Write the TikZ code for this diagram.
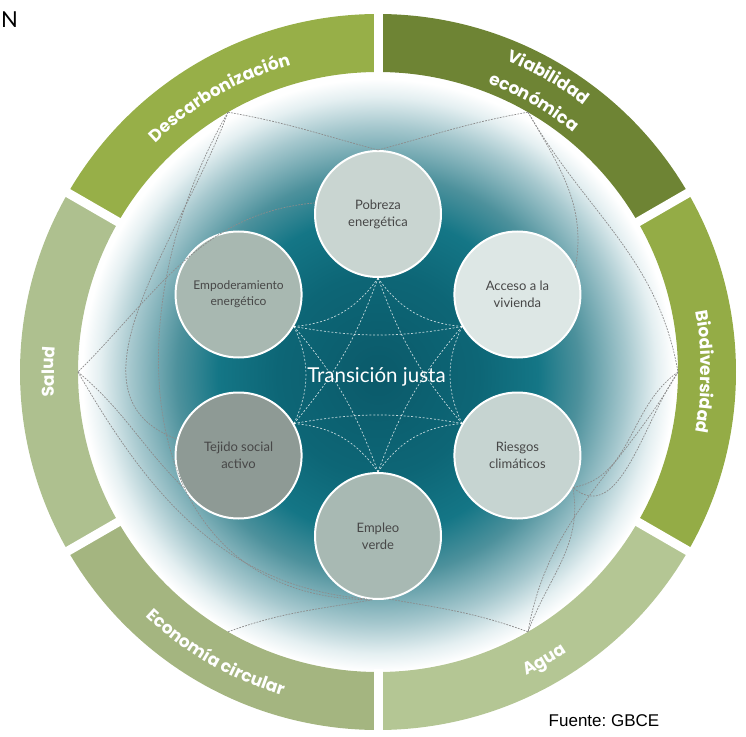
\documentclass[tikz,border=0pt]{standalone}
\usepackage{fontspec}
\setmainfont{Lato}
\newfontfamily\bandfont{Poppins}
\newfontfamily\srcfont{Liberation Sans}
\usetikzlibrary{decorations.text}
\frenchspacing

\definecolor{descol}{HTML}{97AF48}
\definecolor{viacol}{HTML}{6E8434}
\definecolor{biocol}{HTML}{94AC46}
\definecolor{agucol}{HTML}{B4C694}
\definecolor{ecocol}{HTML}{A4B580}
\definecolor{salcol}{HTML}{AEC08F}
\definecolor{pobfill}{HTML}{C9D5D1}
\definecolor{accfill}{HTML}{DDE7E5}
\definecolor{riefill}{HTML}{C6D4D1}
\definecolor{verfill}{HTML}{A8B9B3}
\definecolor{tejfill}{HTML}{8E9A95}
\definecolor{empfill}{HTML}{A8B8B1}
\definecolor{tealA}{HTML}{0B5A6A}
\definecolor{tealB}{HTML}{0D6676}
\definecolor{tealC}{HTML}{147686}
\definecolor{tealD}{HTML}{4D919C}
\definecolor{tealE}{HTML}{A6C8CE}
\definecolor{tealF}{HTML}{E4EFF1}
\definecolor{dashgrey}{HTML}{8C8C8C}
\definecolor{topictext}{HTML}{474747}

\pgfdeclareradialshading{glow}{\pgfpointorigin}{color(0bp)=(tealA); color(8.5bp)=(tealB); color(13.5bp)=(tealC); color(17bp)=(tealD); color(21bp)=(tealE); color(23.5bp)=(tealF); color(25bp)=(white); color(50bp)=(white)}

\newcommand{\bandlabel}{\bandfont\bfseries\fontsize{17}{20}\selectfont}

\tikzset{
	topic/.style={circle,draw=white,line width=2pt,minimum size=126pt,inner sep=0pt,align=center,text=topictext,font=\fontsize{13}{17}\selectfont},
	outerdash/.style={draw=dashgrey,line width=0.7pt,dash pattern=on 1.8pt off 1.2pt},
	innerdash/.style={draw=white,draw opacity=0.75,line width=0.7pt,dash pattern=on 2pt off 1.8pt},
	arclabel/.style={decorate,decoration={text along path,text align=center,text color=white}}
}

\begin{document}
\begin{tikzpicture}[x=1pt,y=1pt]
	\useasboundingbox (-378,-364) rectangle (368,372);
	\shade[shading=glow] (0,-3) circle[radius=296];
	
	\foreach \a/\b/\c in {90/150/descol,30/90/viacol,-30/30/biocol,-90/-30/agucol,-150/-90/ecocol,150/210/salcol}
		\fill[\c] (\a:358) arc[start angle=\a,end angle=\b,radius=358] -- (\b:300) arc[start angle=\b,end angle=\a,radius=300] -- cycle;
	\foreach \a in {90,30,-30,-90,-150,150}
		\draw[white,line width=9pt] (\a:297) -- (\a:364);
	
	\path[arclabel,decoration={text={|\bandlabel|Descarbonización}}] (160:319) arc[start angle=160,end angle=80,radius=319];
	\path[arclabel,decoration={text={|\bandlabel|Viabilidad}}] (100:337) arc[start angle=100,end angle=20,radius=337];
	\path[arclabel,decoration={text={|\bandlabel|económica}}] (100:309) arc[start angle=100,end angle=20,radius=309];
	\path[arclabel,decoration={text={|\bandlabel|Biodiversidad}}] (40:323) arc[start angle=40,end angle=-40,radius=323];
	\path[arclabel,decoration={text={|\bandlabel|Agua}}] (260:338) arc[start angle=260,end angle=340,radius=338];
	\path[arclabel,decoration={text={|\bandlabel|Economía circular}}] (200:337) arc[start angle=200,end angle=280,radius=337];
	\path[arclabel,decoration={text={|\bandlabel|Salud}}] (220:324) arc[start angle=220,end angle=140,radius=324];
	
	\begin{scope}[shift={(0,-3)}]
		\node[topic,fill=pobfill] (pob) at (90:161) {Pobreza\\energética};
		\node[topic,fill=accfill] (acc) at (30:161) {Acceso a la\\vivienda};
		\node[topic,fill=riefill] (rie) at (-30:161) {Riesgos\\climáticos};
		\node[topic,fill=verfill] (ver) at (-90:161) {Empleo\\verde};
		\node[topic,fill=tejfill] (tej) at (-150:161) {Tejido social\\activo};
		\node[topic,fill=empfill,font=\fontsize{12}{16}\selectfont] (emp) at (150:161) {Empoderamiento\\energético};
	\end{scope}
	
	\foreach \n/\a in {pob/-90,acc/-150,rie/150,ver/90,tej/30,emp/-30}
		\coordinate (\n-in) at (\n.\a);
	\foreach \p/\q/\b in {pob/emp/25,emp/tej/25,tej/ver/25,ver/rie/25,rie/acc/25,acc/pob/25,pob/tej/10,emp/ver/10,tej/rie/10,ver/acc/10,rie/pob/10,acc/emp/10}
		\draw[innerdash] (\p-in) to[bend left=\b] (\q-in);
	
	\node[text=white,font=\fontsize{20.5}{22}\selectfont,anchor=base] (tj) at (-1.5,-10) {Transición justa};
	
	\foreach \n/\a in {hbio/0,hvia/60,hdes/120,hsal/180,heco/240,hagu/300}
		\coordinate (\n) at (\a:300);
	\draw[outerdash] (hdes) to[out=-10,in=165] (pob.90);
	\draw[outerdash] (hvia) to[out=190,in=15] (pob.90);
	\draw[outerdash] (hvia) to[out=-60,in=80] (acc.25);
	\draw[outerdash] (hvia) to[out=-60,in=100] (hbio);
	\draw[outerdash] (pob.170) to[out=185,in=45] (hsal);
	\draw[outerdash] (hdes) to[out=250,in=160] (tej.165);
	\draw[outerdash] (hsal) to[out=-40,in=135] (tej.210);
	\draw[outerdash] (hsal) to[out=-60,in=175] (ver.-100);
	\draw[outerdash] (hdes) to[out=240,in=180,looseness=1.2] (ver.-95);
	\draw[outerdash] (heco) to[out=20,in=190] (ver.-95);
	\draw[outerdash] (hagu) to[out=160,in=-10] (ver.-80);
	\draw[outerdash] (hbio) to[out=215,in=10] (rie.-30);
	\draw[outerdash] (hbio) to[out=235,in=-40] (rie.-30);
	\draw[outerdash] (hbio) to[out=240,in=80] (hagu);
	\draw[outerdash] (hagu) to[out=70,in=-80] (rie.-30);
	
	\node[anchor=north west,inner sep=0pt,font=\fontsize{22}{22}\selectfont] (cut) at (-377,360) {N};
	\node[anchor=base,font=\srcfont\fontsize{17}{20}\selectfont] (src) at (226,-354) {Fuente: GBCE};
\end{tikzpicture}
\end{document}
